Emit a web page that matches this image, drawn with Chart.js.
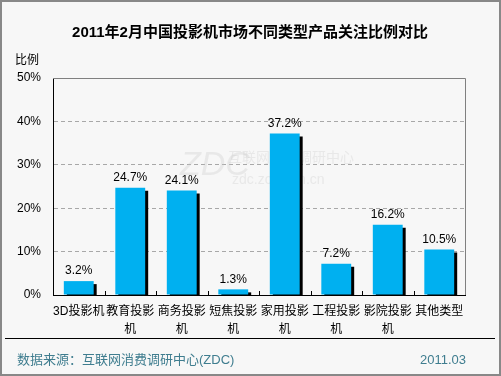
<!DOCTYPE html>
<html>
<head>
<meta charset="utf-8">
<script src="https://cdn.jsdelivr.net/npm/chart.js@4"></script>
<style>
  html, body { margin: 0; padding: 0; background: #f7f7f7; }
  #wrap { width: 501px; height: 376px; position: relative; }
</style>
</head>
<body>
<div id="wrap"><canvas id="chart" width="501" height="376"></canvas></div>
<script>
// chart data
const categories = [['3D投影机'], ['教育投影', '机'], ['商务投影', '机'], ['短焦投影', '机'], ['家用投影', '机'], ['工程投影', '机'], ['影院投影', '机'], ['其他类型']];
const shares = [3.2, 24.7, 24.1, 1.3, 37.2, 7.2, 16.2, 10.5];
const yTicks = [0, 10, 20, 30, 40, 50];

const titleText = '2011年2月中国投影机市场不同类型产品关注比例对比';
const sourceText = '数据来源：互联网消费调研中心(ZDC)';
const dateText = '2011.03';
const FONT = '"Liberation Sans", "Noto Sans CJK SC", sans-serif';

// frame, title, footer, plot box, tick marks, value labels
const decor = {
    id: 'decor',
    beforeDraw(chart) {
        const ctx = chart.ctx;
        ctx.save();
        ctx.fillStyle = '#f7f7f7';
        ctx.fillRect(0, 0, chart.width, chart.height);
        ctx.restore();
    },
    afterDraw(chart) {
        const ctx = chart.ctx;
        const area = chart.chartArea;
        const x = chart.scales.x;
        ctx.save();

        // outer border
        ctx.strokeStyle = '#888';
        ctx.lineWidth = 2;
        ctx.strokeRect(1, 1, chart.width - 2, chart.height - 2);

        // title
        ctx.fillStyle = '#000';
        ctx.font = 'bold 15px ' + FONT;
        ctx.textAlign = 'center';
        ctx.textBaseline = 'middle';
        ctx.fillText(titleText, 250, 33);

        // y axis title
        ctx.font = '12px ' + FONT;
        ctx.textAlign = 'left';
        ctx.fillText('比例', 15, 61);

        // top and right border of plot
        ctx.strokeStyle = '#808080';
        ctx.lineWidth = 1;
        ctx.beginPath();
        ctx.moveTo(area.left, area.top + 0.5);
        ctx.lineTo(area.right + 0.5, area.top + 0.5);
        ctx.lineTo(area.right + 0.5, area.bottom);
        ctx.stroke();

        // small upward ticks between categories
        ctx.strokeStyle = '#000';
        ctx.beginPath();
        for (let i = 0; i < categories.length - 1; i++) {
            const px = Math.round((x.getPixelForValue(i) + x.getPixelForValue(i + 1)) / 2) + 0.5;
            ctx.moveTo(px, area.bottom);
            ctx.lineTo(px, area.bottom - 4);
        }
        ctx.stroke();

        // value labels
        const meta = chart.getDatasetMeta(0);
        ctx.fillStyle = '#000';
        ctx.font = '12px ' + FONT;
        ctx.textAlign = 'center';
        ctx.textBaseline = 'bottom';
        meta.data.forEach((bar, i) => {
            ctx.fillText(shares[i].toFixed(1) + '%', bar.x, bar.y - 4);
        });

        // separator and footer
        ctx.strokeStyle = '#000';
        ctx.beginPath();
        ctx.moveTo(5, 338.5);
        ctx.lineTo(495, 338.5);
        ctx.stroke();

        ctx.fillStyle = '#3f7d8f';
        ctx.font = '13px ' + FONT;
        ctx.textBaseline = 'middle';
        ctx.textAlign = 'left';
        ctx.fillText(sourceText, 17, 360);
        ctx.textAlign = 'right';
        ctx.fillText(dateText, 466, 360);
        ctx.restore();
    },
    beforeDatasetsDraw(chart) {
        // faint watermark
        const ctx = chart.ctx;
        ctx.save();
        ctx.fillStyle = 'rgba(200,200,200,0.3)';
        ctx.font = 'italic 34px ' + FONT;
        ctx.textBaseline = 'middle';
        ctx.textAlign = 'left';
        ctx.fillText('ZDC', 180, 166);
        ctx.font = '14px ' + FONT;
        ctx.fillText('互联网消费调研中心', 228, 158);
        ctx.fillText('zdc.zol.com.cn', 232, 180);
        ctx.restore();
    }
};

// dark drop shadow on the bars
const barShadow = {
    id: 'barShadow',
    beforeDatasetDraw(chart) {
        const ctx = chart.ctx;
        ctx.save();
        ctx.shadowColor = '#000';
        ctx.shadowBlur = 0;
        ctx.shadowOffsetX = 3;
        ctx.shadowOffsetY = 3;
    },
    afterDatasetDraw(chart) {
        chart.ctx.restore();
    }
};

new Chart(document.getElementById('chart'), {
    type: 'bar',
    data: {
        labels: categories,
        datasets: [{
            data: shares,
            backgroundColor: '#00b0f0',
            borderWidth: 0,
            barPercentage: 0.58,
            categoryPercentage: 1
        }]
    },
    options: {
        responsive: false,
        animation: false,
        devicePixelRatio: 1,
        layout: { padding: { left: 0, right: 36, top: 78, bottom: 36 } },
        plugins: {
            legend: { display: false },
            tooltip: { enabled: false },
            title: { display: false }
        },
        scales: {
            x: {
                offset: true,
                grid: { display: false, drawTicks: false },
                border: { color: '#000', width: 1 },
                ticks: {
                    color: '#000',
                    font: { size: 12, family: FONT, lineHeight: 1.5 },
                    maxRotation: 0,
                    autoSkip: false,
                    padding: 8
                },
                afterFit(s) { s.height = 45; }
            },
            y: {
                min: 0,
                max: 50,
                afterBuildTicks(s) { s.ticks = yTicks.map(v => ({ value: v })); },
                grid: {
                    color: '#a8a8a8',
                    drawTicks: false
                },
                border: { color: '#000', width: 1, dash: [4, 3] },
                ticks: {
                    color: '#000',
                    font: { size: 12, family: FONT },
                    padding: 12,
                    callback: v => v + '%'
                },
                afterFit(s) { s.width = 53; }
            }
        }
    },
    plugins: [barShadow, decor]
});
</script>
</body>
</html>
